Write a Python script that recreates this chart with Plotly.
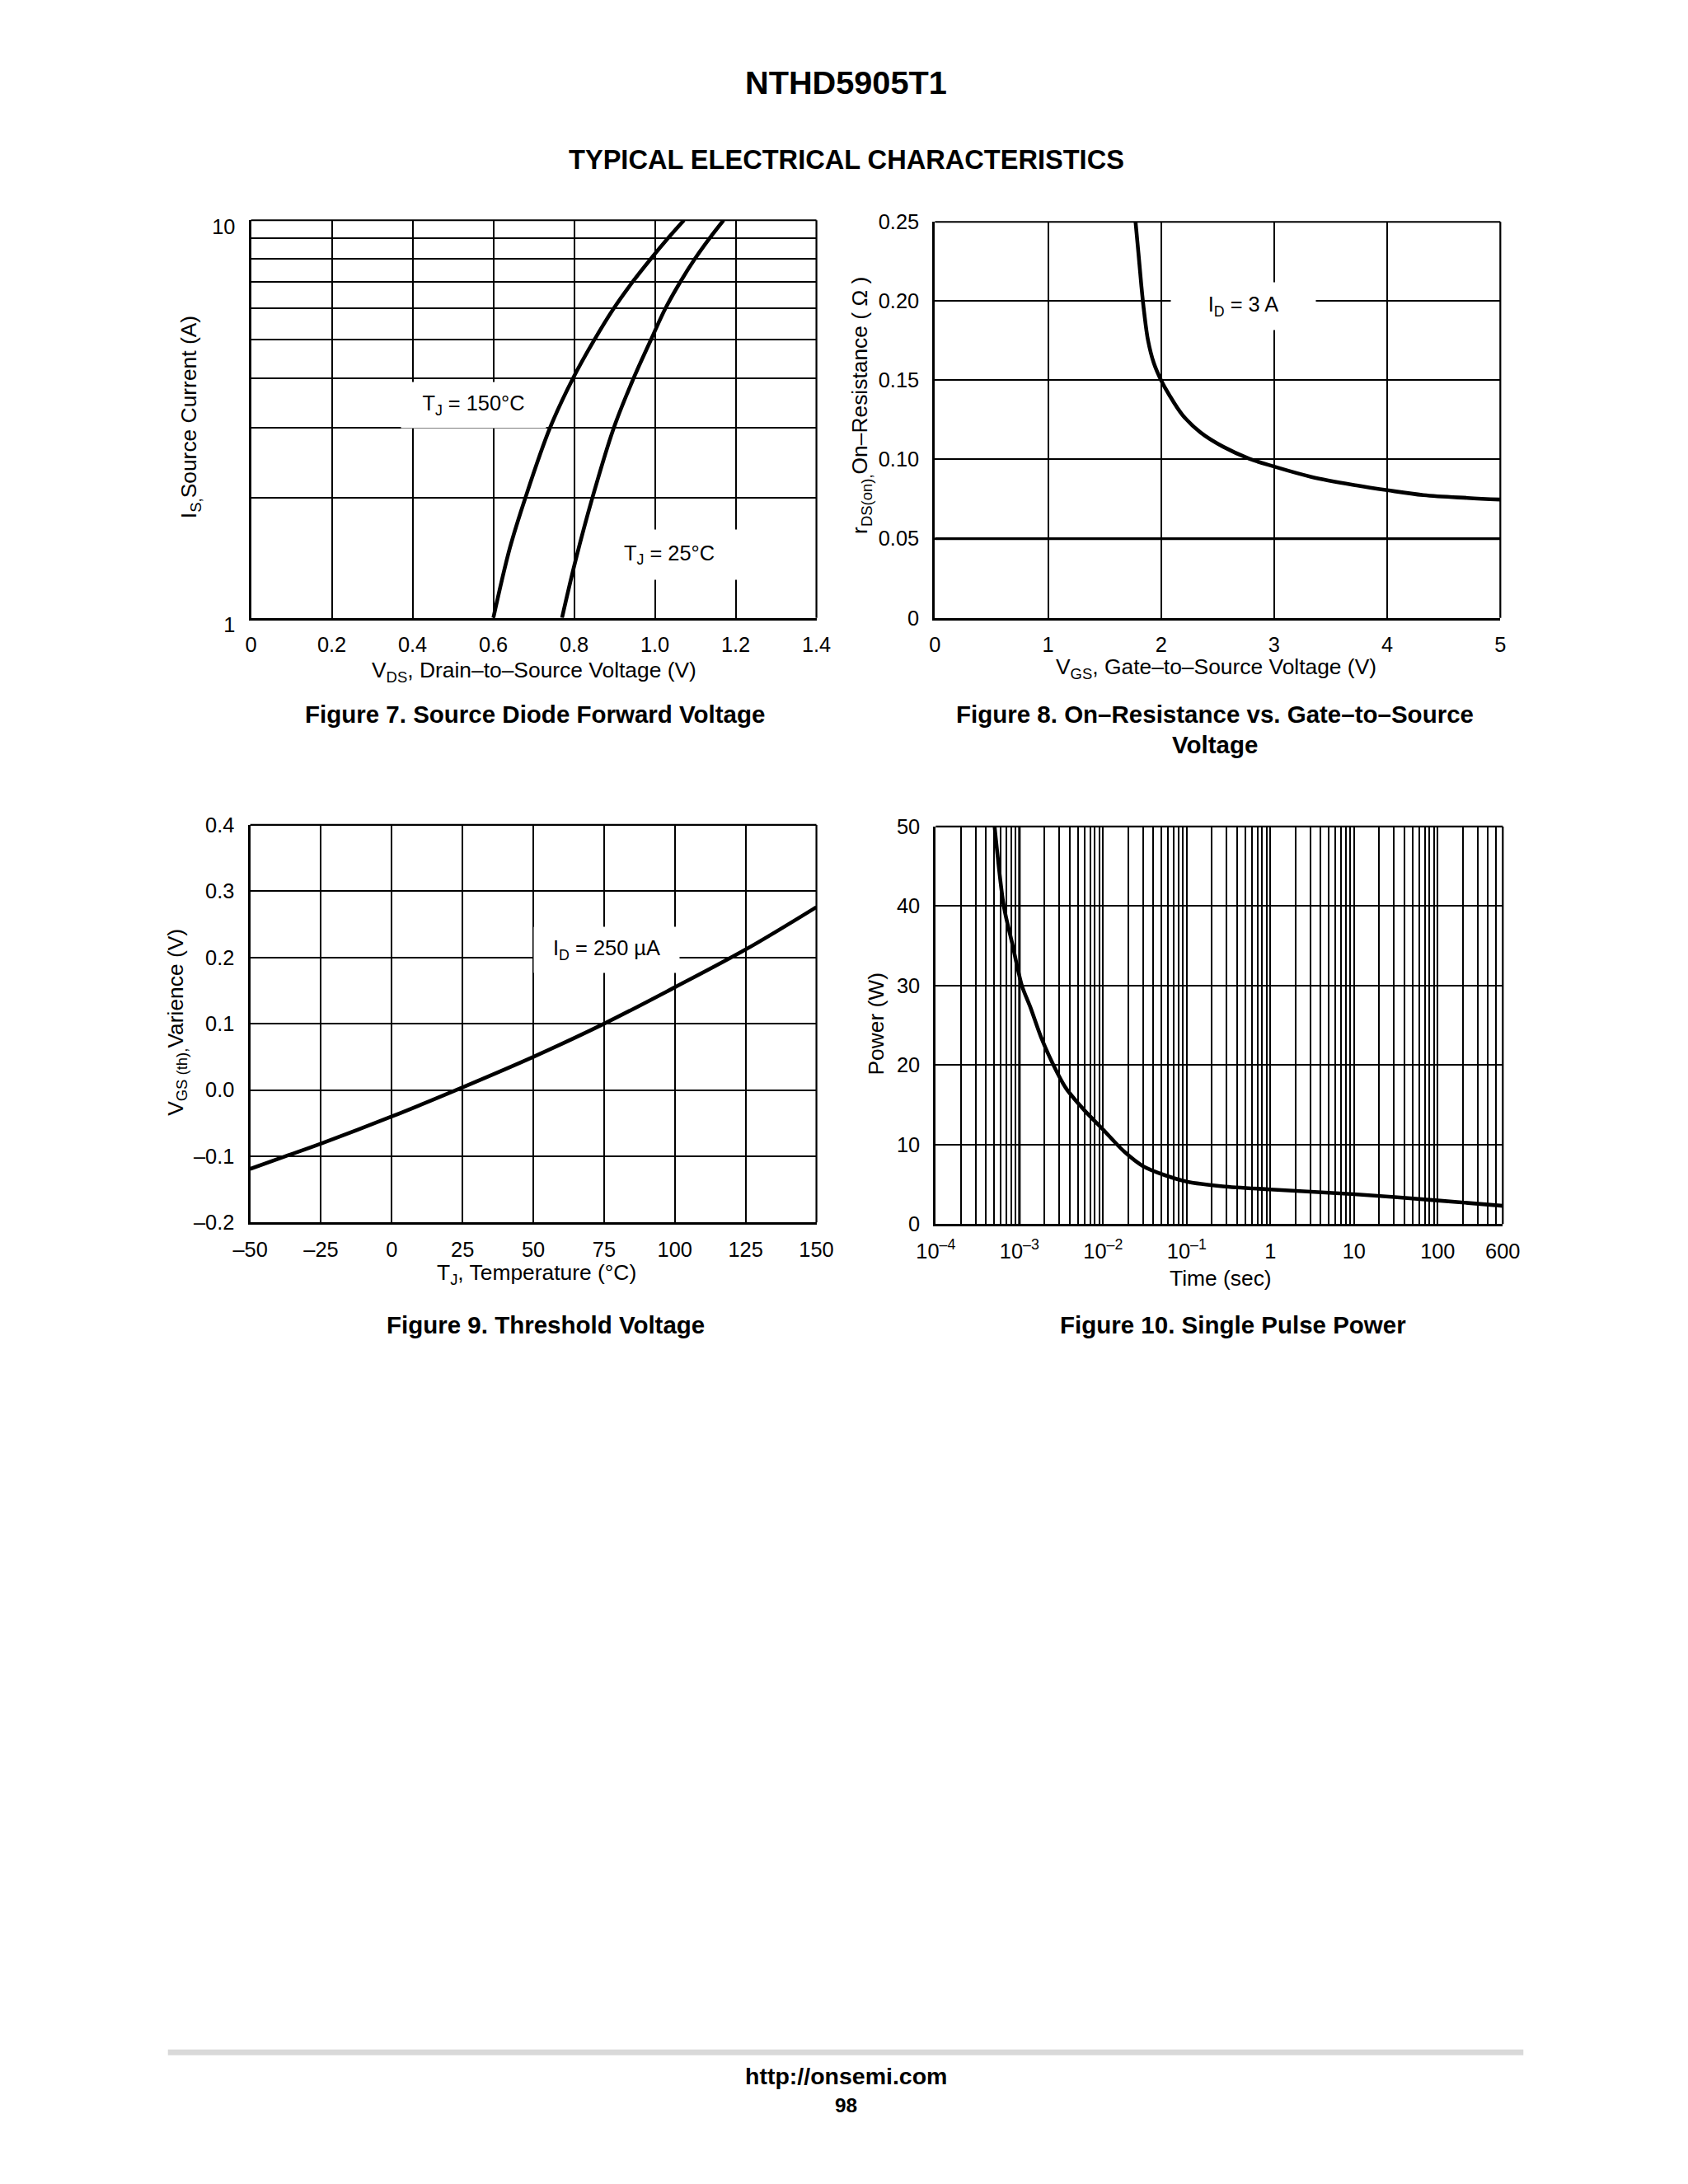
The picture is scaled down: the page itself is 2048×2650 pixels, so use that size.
import numpy as np
import plotly.graph_objects as go

W, H = 2048, 2650
FONT = "Liberation Sans, Arial, Helvetica, sans-serif"

# ---------------- Data ----------------
# Figure 7: Source diode forward voltage
f7_tj150_vds = [0.600, 0.641, 0.679, 0.740, 0.797, 0.850, 0.898, 0.945, 0.990, 1.032, 1.072]
f7_tj150_is = [1.0, 1.5, 2, 3, 4, 5, 6, 7, 8, 9, 10]
f7_tj25_vds = [0.770, 0.804, 0.845, 0.898, 0.947, 0.990, 1.026, 1.063, 1.099, 1.135, 1.170]
f7_tj25_is = [1.0, 1.4, 2, 3, 4, 5, 6, 7, 8, 9, 10]
f7_x_ticks = [0, 0.2, 0.4, 0.6, 0.8, 1.0, 1.2, 1.4]
f7_x_labels = ["0", "0.2", "0.4", "0.6", "0.8", "1.0", "1.2", "1.4"]
f7_y_ticks = [1, 10]
f7_y_labels = ["1", "10"]
f7_y_minor = [2, 3, 4, 5, 6, 7, 8, 9]

# Figure 8: On-resistance vs gate-to-source voltage
f8_vgs = [1.774, 1.800, 1.825, 1.850, 1.885, 1.935, 2.00, 2.07, 2.19, 2.35, 2.55, 2.78, 3.00,
          3.33, 3.73, 4.00, 4.32, 4.71, 5.00]
f8_rds = [0.250, 0.230, 0.210, 0.193, 0.175, 0.161, 0.150, 0.141, 0.128, 0.117, 0.108, 0.1005, 0.0955,
          0.0890, 0.0836, 0.0806, 0.0775, 0.0757, 0.0747]
f8_x_ticks = [0, 1, 2, 3, 4, 5]
f8_x_labels = ["0", "1", "2", "3", "4", "5"]
f8_y_ticks = [0, 0.05, 0.10, 0.15, 0.20, 0.25]
f8_y_labels = ["0", "0.05", "0.10", "0.15", "0.20", "0.25"]
f8_ref_line = 0.05

# Figure 9: Threshold voltage variance vs temperature
f9_tj = [-50, -37.5, -25, 0, 25, 50, 75, 100, 125, 150]
f9_dv = [-0.119, -0.100, -0.081, -0.040, 0.004, 0.050, 0.100, 0.155, 0.212, 0.276]
f9_x_ticks = [-50, -25, 0, 25, 50, 75, 100, 125, 150]
f9_x_labels = ["\u201350", "\u201325", "0", "25", "50", "75", "100", "125", "150"]
f9_y_ticks = [-0.2, -0.1, 0.0, 0.1, 0.2, 0.3, 0.4]
f9_y_labels = ["\u20130.2", "\u20130.1", "0.0", "0.1", "0.2", "0.3", "0.4"]

# Figure 10: Single pulse power
f10_t = [5.05e-4, 6.5e-4, 8.2e-4, 1.07e-3, 1.36e-3, 1.8e-3, 2.5e-3, 3.6e-3, 6.0e-3,
         1.0e-2, 1.8e-2, 3.0e-2, 5.5e-2, 0.1, 0.27, 1, 10, 100, 600]
f10_p = [50, 40, 35.3, 30.0, 27.2, 23.6, 20.2, 17.1, 14.3,
         11.9, 9.1, 7.3, 6.15, 5.36, 4.76, 4.37, 3.77, 2.98, 2.30]
f10_x_major = [1e-4, 1e-3, 1e-2, 1e-1, 1, 10, 100, 600]
f10_x_labels = ["10<sup>\u20134</sup>", "10<sup>\u20133</sup>", "10<sup>\u20132</sup>",
                "10<sup>\u20131</sup>", "1", "10", "100", "600"]
f10_y_ticks = [0, 10, 20, 30, 40, 50]
f10_y_labels = ["0", "10", "20", "30", "40", "50"]
f10_bold_grid = 1e-3

# minor grid for fig 10: every digit of every decade up to 600
f10_minor = []
for k in range(-4, 3):
    for m in range(2, 10):
        v = m * 10.0 ** k
        if v < 600 * 0.999:
            f10_minor.append(v)

# ---------------- Layout helpers ----------------
# The rendered page is slightly offset/scaled; map reference pixels to figure pixels.
OX, OY, SX, SY = 28.0, 23.0, 0.9795, 0.9855


def fx(x):
    return (x - OX) / SX


def fy(y):
    return (y - OY) / SY


def px(x):
    return fx(x) / W


def py(y):
    return 1 - fy(y) / H


FS = 1.0 / 0.983  # font compensation


def fs(s):
    return round(s * FS, 1)


TICKFONT = dict(family=FONT, size=fs(25), color="black")
LINE = dict(color="black", width=4.6)
GRIDW = 1.8

fig = go.Figure()

fig.add_trace(go.Scatter(x=f7_tj150_vds, y=f7_tj150_is, mode="lines", line=dict(LINE, shape="spline"),
                         xaxis="x", yaxis="y", name="TJ = 150°C", showlegend=False))
fig.add_trace(go.Scatter(x=f7_tj25_vds, y=f7_tj25_is, mode="lines", line=dict(LINE, shape="spline"),
                         xaxis="x", yaxis="y", name="TJ = 25°C", showlegend=False))
fig.add_trace(go.Scatter(x=f8_vgs, y=f8_rds, mode="lines", line=dict(LINE, shape="spline"),
                         xaxis="x2", yaxis="y2", name="ID = 3 A", showlegend=False))
fig.add_trace(go.Scatter(x=f9_tj, y=f9_dv, mode="lines", line=dict(LINE, shape="spline"),
                         xaxis="x3", yaxis="y3", name="ID = 250 µA", showlegend=False))
fig.add_trace(go.Scatter(x=f10_t, y=f10_p, mode="lines", line=dict(LINE, shape="spline", smoothing=0.8),
                         xaxis="x4", yaxis="y4", name="Power", showlegend=False))


def minor(vals):
    return dict(tickmode="array", tickvals=vals, showgrid=True, gridcolor="black", gridwidth=GRIDW,
                ticks="")


def xax(domain, ticks, labels, rng, anchor, typ="linear", minor_vals=None):
    d = dict(domain=domain, range=rng, type=typ, tickmode="array", tickvals=ticks, ticktext=labels,
             showgrid=True, gridcolor="black", gridwidth=GRIDW, zeroline=False,
             showline=True, linecolor="black", linewidth=3.2, ticks="", tickfont=TICKFONT,
             ticklabelstandoff=8, anchor=anchor, fixedrange=True)
    if minor_vals:
        d["minor"] = minor(minor_vals)
    return d


def yax(domain, ticks, labels, rng, anchor, typ="linear", shift=0, minor_vals=None):
    d = dict(domain=domain, range=rng, type=typ, tickmode="array", tickvals=ticks, ticktext=labels,
             showgrid=True, gridcolor="black", gridwidth=GRIDW, zeroline=False,
             showline=True, linecolor="black", linewidth=3.2, ticks="", tickfont=TICKFONT,
             ticklabelstandoff=11, ticklabelshift=shift, anchor=anchor, fixedrange=True)
    if minor_vals:
        d["minor"] = minor(minor_vals)
    return d


D7x = [px(301), px(988)]; D7y = [py(750), py(268)]
D8x = [px(1132), px(1819)]; D8y = [py(750), py(270)]
D9x = [px(300), px(988)]; D9y = [py(1483), py(1001)]
D10x = [px(1133), px(1822)]; D10y = [py(1485), py(1003)]

fig.update_layout(
    width=W, height=H, margin=dict(l=0, r=0, t=0, b=0),
    paper_bgcolor="white", plot_bgcolor="white", showlegend=False,
    font=dict(family=FONT, color="black"),
    xaxis=xax(D7x, f7_x_ticks, f7_x_labels, [0, 1.4], "y"),
    yaxis=yax(D7y, f7_y_ticks, f7_y_labels, [0, 1], "x", typ="log", shift=8, minor_vals=f7_y_minor),
    xaxis2=xax(D8x, f8_x_ticks, f8_x_labels, [0, 5], "y2"),
    yaxis2=yax(D8y, f8_y_ticks, f8_y_labels, [0, 0.25], "x2"),
    xaxis3=xax(D9x, f9_x_ticks, f9_x_labels, [-50, 150], "y3"),
    yaxis3=yax(D9y, f9_y_ticks, f9_y_labels, [-0.2, 0.4], "x3"),
    xaxis4=xax(D10x, f10_x_major, f10_x_labels, [-4, np.log10(600)], "y4", typ="log", minor_vals=f10_minor),
    yaxis4=yax(D10y, f10_y_ticks, f10_y_labels, [0, 50], "x4"),
)

shapes = []
# top and right frame edges
for xr, yr in [("x", "y"), ("x2", "y2"), ("x3", "y3"), ("x4", "y4")]:
    shapes.append(dict(type="line", xref=xr + " domain", yref=yr + " domain", x0=0, x1=1, y0=1, y1=1,
                       line=dict(color="black", width=2.2)))
    shapes.append(dict(type="line", xref=xr + " domain", yref=yr + " domain", x0=1, x1=1, y0=0, y1=1,
                       line=dict(color="black", width=2.2)))
# emphasised grid lines
shapes.append(dict(type="line", xref="x2 domain", yref="y2", x0=0, x1=1, y0=f8_ref_line, y1=f8_ref_line,
                   line=dict(color="black", width=3.2)))
shapes.append(dict(type="line", xref="x4", yref="y4 domain", x0=f10_bold_grid, x1=f10_bold_grid, y0=0, y1=1,
                   line=dict(color="black", width=3.0)))
# footer rule
shapes.append(dict(type="line", xref="paper", yref="paper", x0=px(200), x1=px(1847), y0=py(2489), y1=py(2489),
                   line=dict(color="#d9d9d9", width=7)))
fig.update_layout(shapes=shapes)

ann = []


def text(x, y, s, size=26, bold=False, angle=0):
    ann.append(dict(x=px(x), y=py(y), xref="paper", yref="paper", text=("<b>%s</b>" % s) if bold else s,
                    showarrow=False, xanchor="center", yanchor="middle", textangle=angle,
                    font=dict(family=FONT, size=fs(size), color="black")))


# Page titles
text(1024, 101, "NTHD5905T1", size=39, bold=True)
text(1024, 194, "TYPICAL ELECTRICAL CHARACTERISTICS", size=32, bold=True)

# Axis titles
text(645, 815, "V<sub>DS</sub>, Drain\u2013to\u2013Source Voltage (V)")
text(228, 507, "I<sub>S,</sub>Source Current (A)", angle=-90)
text(1474, 811, "V<sub>GS</sub>, Gate\u2013to\u2013Source Voltage (V)")
text(1043, 492, "r<sub>DS(on),</sub>On\u2013Resistance ( \u03a9 )", angle=-90)
text(648, 1546, "T<sub>J</sub>, Temperature (\u00b0C)")
text(211, 1240, "V<sub>GS (th),</sub>Varience (V)", angle=-90)
text(1479, 1551, "Time (sec)")
text(1061, 1242, "Power (W)", angle=-90)

# Captions
text(646, 867, "Figure 7. Source Diode Forward Voltage", size=29, bold=True)
text(1472, 867, "Figure 8. On\u2013Resistance vs. Gate\u2013to\u2013Source", size=29, bold=True)
text(1472, 904, "Voltage", size=29, bold=True)
text(659, 1607, "Figure 9. Threshold Voltage", size=29, bold=True)
text(1494, 1607, "Figure 10. Single Pulse Power", size=29, bold=True)

# Footer
text(1024, 2518, "http://onsemi.com", size=28, bold=True)
text(1024, 2553, "98", size=24, bold=True)


# In-plot labels with white boxes
def label(xr, yr, x, y, s, w, h):
    ann.append(dict(x=x, y=y, xref=xr, yref=yr, text=s, showarrow=False, xanchor="center", yanchor="middle",
                    bgcolor="white", width=w, height=h, borderpad=0,
                    font=dict(family=FONT, size=fs(25), color="black")))


label("x", "y", 0.55, np.log10(3.43), "T<sub>J</sub> = 150\u00b0C", 175, 55)
label("x", "y", 1.035, np.log10(1.44), "T<sub>J</sub> = 25\u00b0C", 180, 60)
label("x2", "y2", 2.73, 0.197, "I<sub>D</sub> = 3 A", 175, 57)
label("x3", "y3", 75.8, 0.211, "I<sub>D</sub> = 250 \u00b5A", 176, 55)

fig.update_layout(annotations=ann)

fig.write_html("out.html")
